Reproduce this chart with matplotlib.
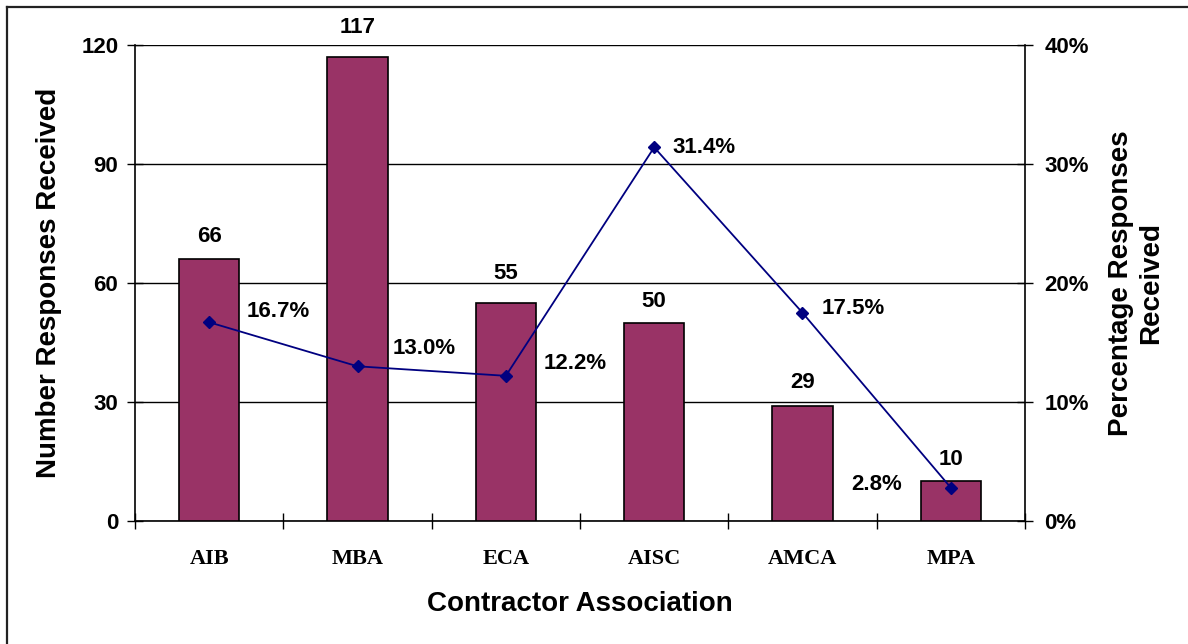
import matplotlib
matplotlib.use("Agg")
import matplotlib.pyplot as plt
from matplotlib.lines import Line2D
from matplotlib.ticker import FuncFormatter, FixedLocator

categories = ["AIB", "MBA", "ECA", "AISC", "AMCA", "MPA"]
responses = [66, 117, 55, 50, 29, 10]
percentages = [16.7, 13.0, 12.2, 31.4, 17.5, 2.8]
pct_labels = ["16.7%", "13.0%", "12.2%", "31.4%", "17.5%", "2.8%"]
left_ticks = [0, 30, 60, 90, 120]
right_ticks = [0, 10, 20, 30, 40]

# label offsets (points) for labels
bar_offsets = [16.5, 21.5, 21, 15, 17, 16]
pct_offsets = [(27, 8), (25, 13), (27, 9), (13, 0), (14, 3), (-35, 2)]
pct_ha = ["left", "left", "left", "left", "left", "right"]

FS = 16
fig = plt.figure(figsize=(11.88, 6.44), dpi=100)
ax = fig.add_axes([135/1188, 1-521/644, (1025-135)/1188, (521-45)/644])

x = list(range(len(categories)))
bars = ax.bar(x, responses, width=0.405, color="#993366", edgecolor="black", linewidth=1.2, zorder=3)
ax.set_ylim(0, 120)
ax.set_xlim(-0.5, len(categories)-0.5)
ax.yaxis.set_major_locator(FixedLocator(left_ticks))
ax.grid(axis="y", color="black", linewidth=1.0, zorder=0)
for s in ["top", "right"]:
    ax.spines[s].set_visible(False)
ax.spines["left"].set_linewidth(1.2)
ax.spines["bottom"].set_linewidth(1.2)

# x ticks at boundaries, labels at centres
ax.set_xticks([i - 0.5 for i in range(len(categories)+1)])
ax.set_xticklabels([])
ax.set_xticks(x, minor=True)
ax.set_xticklabels(categories, minor=True, fontfamily="Liberation Serif", fontweight="bold", fontsize=16)
ax.tick_params(axis="x", which="major", direction="inout", length=12, width=1)
ax.tick_params(axis="x", which="minor", length=0, pad=20)
ax.tick_params(axis="y", direction="inout", length=12, width=1, labelsize=FS, pad=6)
for lab in ax.get_yticklabels():
    lab.set_fontweight("bold")
    lab.set_fontfamily("Liberation Sans")

for xi, v, off in zip(x, responses, bar_offsets):
    ax.annotate(str(v), (xi, v), xytext=(0, off), textcoords="offset points",
                ha="center", va="center", fontsize=FS, fontweight="bold",
                fontfamily="Liberation Sans")

ax.set_ylabel("Number Responses Received", fontsize=20, fontweight="bold",
              fontfamily="Liberation Sans", labelpad=14)
ax.set_xlabel("Contractor Association", fontsize=20, fontweight="bold",
              fontfamily="Liberation Sans", labelpad=16)

ax2 = ax.twinx()
ax2.plot(x, percentages, color="#000080", linewidth=1.3, marker="D", markersize=6, zorder=5)
ax2.set_ylim(0, 40)
ax2.yaxis.set_major_locator(FixedLocator(right_ticks))
ax2.yaxis.set_major_formatter(FuncFormatter(lambda v, p: f"{v:.0f}%"))
for s in ["top", "left", "bottom"]:
    ax2.spines[s].set_visible(False)
ax2.spines["right"].set_linewidth(1.2)
ax2.tick_params(axis="y", direction="inout", length=12, width=1, labelsize=FS, pad=8)
for lab in ax2.get_yticklabels():
    lab.set_fontweight("bold")
    lab.set_fontfamily("Liberation Sans")
for xi, v, t, off, ha in zip(x, percentages, pct_labels, pct_offsets, pct_ha):
    ax2.annotate(t, (xi, v), xytext=off, textcoords="offset points",
                 ha=ha, va="center", fontsize=FS, fontweight="bold",
                 fontfamily="Liberation Sans")
ax2.set_ylabel("Percentage Responses\nReceived", fontsize=20, fontweight="bold",
               fontfamily="Liberation Sans", labelpad=14)

# figure border (left and top)
fig.add_artist(Line2D([7/1188, 7/1188], [0, 1-7/644], transform=fig.transFigure, color="#222222", linewidth=1.6))
fig.add_artist(Line2D([7/1188, 1], [1-7/644, 1-7/644], transform=fig.transFigure, color="#222222", linewidth=1.6))

fig.savefig("out.png", dpi=100)
